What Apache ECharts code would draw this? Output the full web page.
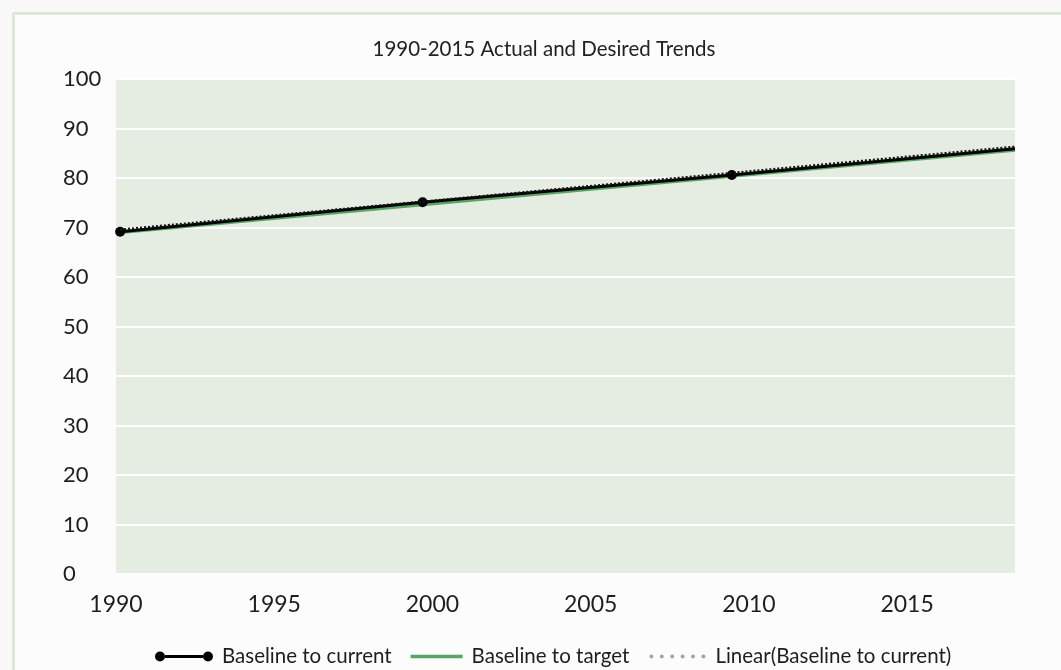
<!DOCTYPE html>
<html>
<head>
<meta charset="utf-8">
<script src="https://cdn.jsdelivr.net/npm/echarts@6/dist/echarts.min.js"></script>
<style>
  html, body { margin: 0; padding: 0; background: #f7f8f7; }
  #chart { width: 1061px; height: 670px; }
</style>
</head>
<body>
<div id="chart"></div>
<script>
// Years (decimal) and values for each series
const currentYears = [1990.13, 1999.69, 2009.46, 2018.41];
const currentValues = [69.15, 75.1, 80.6, 85.9];
const targetYears = [1990, 2018.41];
const targetValues = [68.9, 85.6];
const trendYears = [1990.13, 2018.41];
const trendValues = [69.55, 86.3];
const seriesNames = ['Baseline to current', 'Baseline to target', 'Linear(Baseline to current)'];
const titleText = '1990-2015 Actual and Desired Trends';

const pairs = (xs, ys) => xs.map((x, i) => [x, ys[i]]);

const FONT = 'Lato, "Open Sans", sans-serif';
const chart = echarts.init(document.getElementById('chart'));

// Only the last point of the current series carries no marker
const currentData = pairs(currentYears, currentValues).map((p, i, arr) =>
  i === arr.length - 1 ? { value: p, symbol: 'none' } : p);

chart.setOption({
  backgroundColor: 'transparent',
  animation: false,
  graphic: [{
    type: 'rect',
    z: -10,
    shape: { x: 13.5, y: 13.5, width: 1100, height: 700 },
    style: { fill: '#fcfcfc', stroke: '#dde8d9', lineWidth: 3 }
  }],
  title: {
    text: titleText,
    left: 539,
    textAlign: 'center',
    top: 34,
    textStyle: { fontFamily: FONT, fontSize: 20.5, fontWeight: 'normal', color: '#222' }
  },
  grid: {
    left: 116, top: 79, right: 46, bottom: 96,
    show: true, backgroundColor: '#e5ede2', borderWidth: 0
  },
  xAxis: {
    type: 'value',
    min: 1990,
    max: 2018.41,
    interval: 5,
    axisLine: { show: false },
    axisTick: { show: false },
    splitLine: { show: false },
    axisLabel: {
      margin: 19,
      fontFamily: FONT, fontSize: 23, color: '#1e1e1e',
      formatter: v => (Math.abs(v % 5) < 1e-6 ? String(v) : '')
    }
  },
  yAxis: {
    type: 'value',
    min: 0, max: 100, interval: 10,
    axisLine: { show: false },
    axisTick: { show: false },
    splitLine: { lineStyle: { color: '#ffffff', width: 2 } },
    axisLabel: {
      align: 'left',
      margin: 53,
      padding: [0, 0, 8, 0],
      fontFamily: FONT, fontSize: 22, color: '#1e1e1e'
    }
  },
  legend: {
    left: 150,
    top: 641,
    itemWidth: 58,
    itemHeight: 10,
    itemGap: 19,
    textStyle: { fontFamily: FONT, fontSize: 20.5, color: '#1e1e1e', padding: [0, 0, 0, 4] },
    data: [
      {
        name: seriesNames[0],
        icon: 'path://M0,5a5,5 0 1,0 10,0a5,5 0 1,0 -10,0M10,3.5H48V6.5H10ZM48,5a5,5 0 1,0 10,0a5,5 0 1,0 -10,0',
        itemStyle: { color: '#000' }
      },
      {
        name: seriesNames[1],
        icon: 'path://M0,0M0,3.2H52V6.8H0ZM58,10',
        itemStyle: { color: '#58a565' },
        textStyle: { padding: [0, 0, 0, -2] }
      },
      {
        name: seriesNames[2],
        icon: 'path://M0,0M1,5a2,2 0 1,0 4,0a2,2 0 1,0 -4,0M11.4,5a2,2 0 1,0 4,0a2,2 0 1,0 -4,0M21.8,5a2,2 0 1,0 4,0a2,2 0 1,0 -4,0M32.2,5a2,2 0 1,0 4,0a2,2 0 1,0 -4,0M42.6,5a2,2 0 1,0 4,0a2,2 0 1,0 -4,0M53,5a2,2 0 1,0 4,0a2,2 0 1,0 -4,0M58,10',
        itemStyle: { color: '#a3a3ab' }
      }
    ]
  },
  series: [
    {
      name: seriesNames[1],
      type: 'line',
      data: pairs(targetYears, targetValues),
      symbol: 'none',
      lineStyle: { color: '#58a565', width: 3 },
      itemStyle: { color: '#58a565' },
      z: 2
    },
    {
      name: seriesNames[0],
      type: 'line',
      data: currentData,
      symbol: 'circle',
      symbolSize: 10,
      showAllSymbol: true,
      lineStyle: { color: '#000', width: 3 },
      itemStyle: { color: '#000' },
      z: 3
    },
    {
      name: seriesNames[2],
      type: 'line',
      data: pairs(trendYears, trendValues),
      symbol: 'none',
      lineStyle: { color: '#141414', width: 2.5, type: [2, 2] },
      itemStyle: { color: '#a3a3ab' },
      z: 4
    }
  ]
});
</script>
</body>
</html>
